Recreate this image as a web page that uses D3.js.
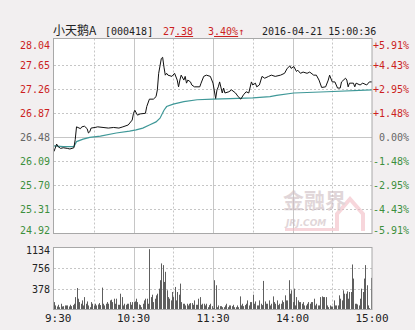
<!DOCTYPE html>
<html>
<head>
<meta charset="utf-8">
<script src="https://cdn.jsdelivr.net/npm/d3@7"></script>
<style>
  body { margin: 0; background: #f2eff0; }
  .num { font-family: "DejaVu Sans Mono", monospace; font-size: 10px; }
</style>
</head>
<body>
<div class="chart"></div>
<script>
// Chart values
var prevClose = 26.48;
var priceTicks = [28.04, 27.65, 27.26, 26.87, 26.48, 26.09, 25.70, 25.31, 24.92];
var pctTicks = ["+5.91%", "+4.43%", "+2.95%", "+1.48%", "0.00%", "-1.48%", "-2.95%", "-4.43%", "-5.91%"];
var volTicks = [1134, 756, 378];
var timeLabels = ["9:30", "10:30", "11:30", "14:00", "15:00"];
var timeMinutes = [0, 60, 120, 180, 240];

// minute index (0 = 9:30, 240 = 15:00) and price
var priceMin = [0, 2, 3, 5, 7, 10, 12, 15, 16, 17, 20, 21, 23, 25, 26, 27, 28, 31, 33, 37, 41, 45, 49, 52, 56, 59,
  60, 61, 63, 65, 69, 70, 72, 75, 77, 78, 79, 81, 82, 83, 84, 85, 86, 89, 91, 93, 94, 95, 96, 98, 99, 100, 101,
  103, 104, 106, 110, 111, 113, 115, 118, 120, 122, 123, 124, 125, 127, 128, 129, 132, 134, 137, 139, 141, 143,
  145, 147, 149, 150, 152, 153, 155, 157, 159, 162, 164, 167, 171, 174, 176, 178, 179, 181, 183, 184, 186, 188,
  191, 193, 196, 198, 200, 202, 205, 207, 208, 210, 212, 214, 216, 217, 220, 221, 222, 223, 226, 227, 228, 231,
  233, 236, 238, 240];
var price = [26.25, 26.37, 26.33, 26.30, 26.31, 26.30, 26.29, 26.31, 26.44, 26.65, 26.62, 26.65, 26.66, 26.62,
  26.55, 26.57, 26.63, 26.64, 26.65, 26.64, 26.63, 26.64, 26.63, 26.65, 26.68, 26.76, 26.87, 26.92, 26.84, 26.86,
  26.87, 26.98, 27.10, 27.10, 27.14, 27.25, 27.52, 27.76, 27.78, 27.62, 27.49, 27.52, 27.49, 27.47, 27.52, 27.41,
  27.30, 27.41, 27.49, 27.41, 27.47, 27.36, 27.41, 27.38, 27.33, 27.30, 27.30, 27.36, 27.47, 27.49, 27.47, 27.36,
  27.11, 27.25, 27.30, 27.38, 27.20, 27.28, 27.20, 27.22, 27.25, 27.20, 27.14, 27.10, 27.17, 27.22, 27.20, 27.38,
  27.33, 27.36, 27.30, 27.33, 27.47, 27.44, 27.47, 27.49, 27.47, 27.49, 27.52, 27.60, 27.64, 27.60, 27.63, 27.55,
  27.57, 27.52, 27.54, 27.52, 27.54, 27.49, 27.49, 27.41, 27.29, 27.30, 27.41, 27.49, 27.38, 27.38, 27.28, 27.28,
  27.38, 27.44, 27.41, 27.30, 27.36, 27.36, 27.30, 27.36, 27.33, 27.36, 27.33, 27.38, 27.38];

// average price line
var avgMin = [0, 7, 15, 17, 22, 27, 35, 47, 57, 62, 67, 72, 77, 80, 83, 85, 90, 98, 108, 120, 133, 150, 163, 168,
  181, 206, 240];
var avgPrice = [26.34, 26.33, 26.33, 26.41, 26.45, 26.48, 26.50, 26.55, 26.58, 26.60, 26.63, 26.68, 26.73, 26.79,
  26.92, 26.98, 27.02, 27.06, 27.09, 27.10, 27.11, 27.12, 27.14, 27.16, 27.20, 27.22, 27.25];

// volume per minute
var volume = [135, 74, 55, 86, 42, 105, 55, 61, 74, 74, 74, 55, 86, 61, 80, 105, 226, 392, 197, 135,
  105, 166, 74, 226, 105, 147, 74, 42, 135, 105, 74, 105, 74, 92, 117, 80, 399, 105, 74, 105,
  135, 105, 166, 178, 135, 197, 105, 197, 86, 86, 288, 226, 74, 105, 86, 105, 105, 135, 86, 135,
  135, 147, 197, 135, 92, 80, 42, 105, 166, 197, 197, 105, 1100, 226, 270, 135, 197, 258, 288, 380,
  534, 840, 809, 503, 687, 350, 226, 197, 166, 319, 226, 411, 166, 319, 270, 472, 135, 105, 105, 74,
  105, 74, 105, 117, 117, 86, 166, 86, 86, 197, 226, 86, 105, 105, 74, 105, 42, 80, 105, 61,
  25, 534, 442, 42, 74, 61, 61, 42, 42, 74, 105, 42, 74, 74, 61, 86, 42, 42, 74, 42,
  239, 74, 105, 61, 80, 105, 166, 74, 135, 135, 270, 105, 147, 74, 74, 166, 105, 80, 521, 147,
  105, 105, 166, 74, 105, 239, 135, 105, 166, 80, 105, 105, 166, 135, 258, 166, 166, 534, 288, 350,
  135, 380, 74, 226, 166, 135, 135, 105, 135, 74, 74, 105, 135, 105, 135, 135, 197, 74, 105, 74,
  74, 226, 239, 226, 226, 226, 74, 42, 74, 55, 55, 166, 74, 74, 74, 258, 197, 166, 350, 288,
  288, 331, 197, 319, 319, 821, 564, 105, 105, 92, 74, 197, 380, 319, 564, 809, 442, 74, 25, 577];

// Layout
var svgWidth = 415;
var svgHeight = 330;
var left = 54, right = 372;
var priceTop = 38.5, priceBottom = 233.5;
var volTop = 247.5, volBottom = 309.5;

var red = "#cc1f1f", green = "#3d8f3d", gray = "#666";
var gridColor = "#c6c6c6";

var svg = d3.select(".chart")
  .append("svg")
  .attr("width", svgWidth)
  .attr("height", svgHeight);

// Scales
var x = d3.scaleLinear().domain([0, 240]).range([left, right]);
var y = d3.scaleLinear().domain([24.92, 28.04]).range([233.3, 41.3]);
var yVol = d3.scaleLinear().domain([0, 1134]).range([volBottom, 247.3]);

// Panels
[[priceTop, priceBottom], [volTop, volBottom]].forEach(function(p) {
  svg.append("rect")
    .attr("x", left)
    .attr("y", p[0])
    .attr("width", right - left)
    .attr("height", p[1] - p[0])
    .attr("fill", "#fff");
});

// Vertical grid (solid on the hour, dashed on the half hour)
var vMinutes = [30, 60, 90, 120, 150, 180, 210];
[[priceTop, priceBottom], [volTop, volBottom]].forEach(function(p) {
  svg.selectAll(null)
    .data(vMinutes)
    .enter().append("line")
    .attr("x1", function(d) { return Math.round(x(d)) + 0.5; })
    .attr("x2", function(d) { return Math.round(x(d)) + 0.5; })
    .attr("y1", p[0])
    .attr("y2", p[1])
    .attr("stroke", gridColor)
    .attr("stroke-dasharray", function(d) { return d % 60 == 0 ? null : "2,2"; });
});

// Horizontal grid, price panel
svg.selectAll(null)
  .data(priceTicks.slice(1, -1))
  .enter().append("line")
  .attr("x1", left)
  .attr("x2", right)
  .attr("y1", function(d) { return Math.round(y(d)) + 0.5; })
  .attr("y2", function(d) { return Math.round(y(d)) + 0.5; })
  .attr("stroke", gridColor)
  .attr("stroke-dasharray", function(d) { return d == prevClose ? null : "2,2"; });

// Horizontal grid, volume panel
svg.selectAll(null)
  .data(volTicks.slice(1))
  .enter().append("line")
  .attr("x1", left)
  .attr("x2", right)
  .attr("y1", function(d) { return Math.round(yVol(d)) + 0.5; })
  .attr("y2", function(d) { return Math.round(yVol(d)) + 0.5; })
  .attr("stroke", gridColor)
  .attr("stroke-dasharray", "2,2");

// Watermark
var wm = svg.append("g").attr("opacity", 0.6);
wm.append("path")
  .attr("d", "M337,231 L337,214 L350,199 L363,214 L363,231")
  .attr("fill", "none")
  .attr("stroke", "#f2bcc4")
  .attr("stroke-width", 4);
wm.append("rect")
  .attr("x", 285)
  .attr("y", 228)
  .attr("width", 52)
  .attr("height", 3)
  .attr("fill", "#f2bcc4");
wm.append("text")
  .attr("x", 283)
  .attr("y", 208)
  .style("font-family", "Noto Sans CJK SC")
  .style("font-size", "21px")
  .style("font-weight", "bold")
  .attr("fill", "#cdbcc0")
  .text("金融界");
wm.append("text")
  .attr("x", 286)
  .attr("y", 226)
  .style("font-family", "DejaVu Sans")
  .style("font-size", "9px")
  .style("font-weight", "bold")
  .style("font-style", "italic")
  .attr("fill", "#cdbcc0")
  .text("JRJ.COM");

// Volume bars
svg.selectAll(".bar")
  .data(volume)
  .enter().append("rect")
  .attr("class", "bar")
  .attr("x", function(d, i) { return Math.round(x(i)); })
  .attr("y", function(d) { return yVol(d); })
  .attr("width", 1)
  .attr("height", function(d) { return volBottom - yVol(d); })
  .attr("fill", "#5e5e5e");

// Average line
var avgLine = d3.line()
  .x(function(d, i) { return x(avgMin[i]); })
  .y(function(d) { return y(d); });
svg.append("path")
  .attr("d", avgLine(avgPrice))
  .attr("fill", "none")
  .attr("stroke", "#3f9898")
  .attr("stroke-width", 1.2);

// Price line
var priceLine = d3.line()
  .x(function(d, i) { return x(priceMin[i]); })
  .y(function(d) { return y(d); });
svg.append("path")
  .attr("d", priceLine(price))
  .attr("fill", "none")
  .attr("stroke", "#111")
  .attr("stroke-width", 1);

// Panel borders
[[priceTop, priceBottom], [volTop, volBottom]].forEach(function(p) {
  svg.append("rect")
    .attr("x", left - 0.5)
    .attr("y", p[0])
    .attr("width", right - left + 0.5)
    .attr("height", p[1] - p[0])
    .attr("fill", "none")
    .attr("stroke", "#a8a8a8");
});

// Left price labels
svg.selectAll(null)
  .data(priceTicks)
  .enter().append("text")
  .attr("class", "num")
  .attr("x", 50)
  .attr("y", function(d) { return Math.min(Math.max(y(d) + 4, 48.5), 234); })
  .attr("text-anchor", "end")
  .attr("fill", function(d) { return d > prevClose ? red : d < prevClose ? green : gray; })
  .text(function(d) { return d.toFixed(2); });

// Right percent labels
svg.selectAll(null)
  .data(pctTicks)
  .enter().append("text")
  .attr("class", "num")
  .attr("x", 409)
  .attr("y", function(d, i) { return Math.min(Math.max(y(priceTicks[i]) + 4, 48.5), 234); })
  .attr("text-anchor", "end")
  .attr("fill", function(d) { return d[0] == "+" ? red : d[0] == "-" ? green : gray; })
  .text(function(d) { return d; });

// Volume labels
svg.selectAll(null)
  .data(volTicks)
  .enter().append("text")
  .attr("class", "num")
  .attr("x", 50)
  .attr("y", function(d) { return Math.max(yVol(d) + 4, 253.5); })
  .attr("text-anchor", "end")
  .attr("fill", "#222")
  .text(function(d) { return d; });

// Time labels
svg.selectAll(null)
  .data(timeLabels)
  .enter().append("text")
  .attr("class", "num")
  .style("font-size", "11px")
  .attr("x", function(d, i) { return i == 0 ? 45 : x(timeMinutes[i]); })
  .attr("y", 322)
  .attr("text-anchor", function(d, i) { return i == 0 ? "start" : "middle"; })
  .attr("fill", "#222")
  .text(function(d) { return d; });

// Header
var header = svg.append("g");
header.append("text")
  .attr("x", 53)
  .attr("y", 35)
  .style("font-family", "Noto Sans CJK SC")
  .style("font-size", "12px")
  .attr("fill", "#222")
  .text("小天鹅A");
header.append("text")
  .attr("class", "num")
  .attr("x", 105)
  .attr("y", 35)
  .attr("fill", "#222")
  .text("[000418]");

var last = header.append("text")
  .attr("class", "num")
  .attr("x", 163)
  .attr("y", 35)
  .attr("fill", red);
last.append("tspan").text("27");
last.append("tspan").style("text-decoration", "underline").text(".38");

var chg = header.append("text")
  .attr("class", "num")
  .attr("x", 208)
  .attr("y", 35)
  .attr("fill", red);
chg.append("tspan").text("3");
chg.append("tspan").style("text-decoration", "underline").text(".40%");
chg.append("tspan").text("↑");

header.append("text")
  .attr("class", "num")
  .attr("x", 262)
  .attr("y", 35)
  .attr("fill", "#222")
  .text("2016-04-21 15:00:36");
</script>
</body>
</html>
